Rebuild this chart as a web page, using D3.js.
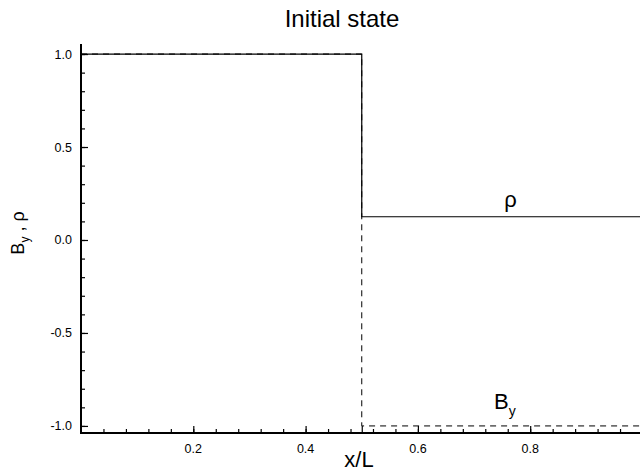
<!DOCTYPE html>
<html>
<head>
<meta charset="utf-8">
<script src="https://cdn.jsdelivr.net/npm/d3@7"></script>
<style>
  body { margin: 0; background: #fff; }
  text { font-family: "Liberation Sans", Arial, sans-serif; fill: #000; }
</style>
</head>
<body>
<div id="chart"></div>
<script>
/*Data*/
var xs = [0, 0.5, 0.5, 0.996];
var rho = [1, 1, 0.125, 0.125];
var by = [1, 1, -1, -1];
var xTicks = [0.2, 0.4, 0.6, 0.8];
var yTicks = [-1.0, -0.5, 0.0, 0.5, 1.0];

/*SVG Size*/
var width = 640;
var height = 471;
var padL = 81, padR = 642.5, padT = 44, padB = 433;

var svg = d3.select("#chart").append("svg")
            .attr("width", width)
            .attr("height", height);

var x = d3.scaleLinear().domain([0, 1]).range([padL, padR]);
var y = d3.scaleLinear().domain([-1.038, 1.054]).range([padB, padT]);

/*Axes, ticks inward*/
var xAxis = d3.axisTop(x).tickValues(d3.range(0.04, 1.0, 0.04)).tickSize(4).tickFormat("");
var xMajor = d3.axisTop(x).tickValues(xTicks.concat([0.5])).tickSize(7).tickFormat("");
var yAxis = d3.axisRight(y).tickValues(d3.range(-1.0, 1.05, 0.1)).tickSize(4).tickFormat("");
var yMajor = d3.axisRight(y).tickValues(yTicks).tickSize(7).tickFormat("");

[xAxis, xMajor].forEach(function(a){
  svg.append("g").attr("transform", "translate(0," + padB + ")").call(a)
     .call(function(g){ g.select(".domain").remove(); g.selectAll("line").attr("stroke", "#000").attr("stroke-width", 1.2); });
});
[yAxis, yMajor].forEach(function(a){
  svg.append("g").attr("transform", "translate(" + padL + ",0)").call(a)
     .call(function(g){ g.select(".domain").remove(); g.selectAll("line").attr("stroke", "#000").attr("stroke-width", 1.2); });
});

svg.append("line").attr("x1", padL).attr("x2", width).attr("y1", padB).attr("y2", padB)
   .attr("stroke", "#000").attr("stroke-width", 2);
svg.append("line").attr("x1", padL).attr("x2", padL).attr("y1", padT).attr("y2", padB + 1)
   .attr("stroke", "#000").attr("stroke-width", 2);

/*Tick labels*/
svg.selectAll(".xl").data(xTicks).enter().append("text")
   .attr("x", function(d){ return x(d); }).attr("y", 452.5)
   .attr("text-anchor", "middle").attr("font-size", 12.5)
   .text(function(d){ return d.toFixed(1); });
svg.selectAll(".yl").data(yTicks).enter().append("text")
   .attr("x", 72).attr("y", function(d){ return y(d) + 4.5; })
   .attr("text-anchor", "end").attr("font-size", 12.5)
   .text(function(d){ return d.toFixed(1); });

/*Lines*/
var line = d3.line().x(function(d){ return x(d[0]); }).y(function(d){ return y(d[1]); });
svg.append("path").attr("d", line(d3.zip(xs, by)))
   .attr("fill", "none").attr("stroke", "#000").attr("stroke-width", 1)
   .attr("stroke-dasharray", "6,5");
svg.append("path").attr("d", line(d3.zip(xs, rho)))
   .attr("fill", "none").attr("stroke", "#000").attr("stroke-width", 1.2);

/*Labels*/
svg.append("text").attr("x", 342).attr("y", 27).attr("text-anchor", "middle")
   .attr("font-size", 24).text("Initial state");
svg.append("text").attr("x", 359).attr("y", 467).attr("text-anchor", "middle")
   .attr("font-size", 22).text("x/L");

var yl = svg.append("text").attr("transform", "translate(24,233) rotate(-90)")
   .attr("text-anchor", "middle").attr("font-size", 18);
yl.append("tspan").text("B");
yl.append("tspan").attr("font-size", 12).attr("dy", 5).text("y");
yl.append("tspan").attr("dy", -5).text(" , ρ");

svg.append("text").attr("x", 510.5).attr("y", 206.5).attr("text-anchor", "middle")
   .attr("font-size", 22).text("ρ");
var bl = svg.append("text").attr("x", 494).attr("y", 409).attr("font-size", 22);
bl.append("tspan").text("B");
bl.append("tspan").attr("font-size", 14).attr("dy", 7).text("y");
</script>
</body>
</html>
